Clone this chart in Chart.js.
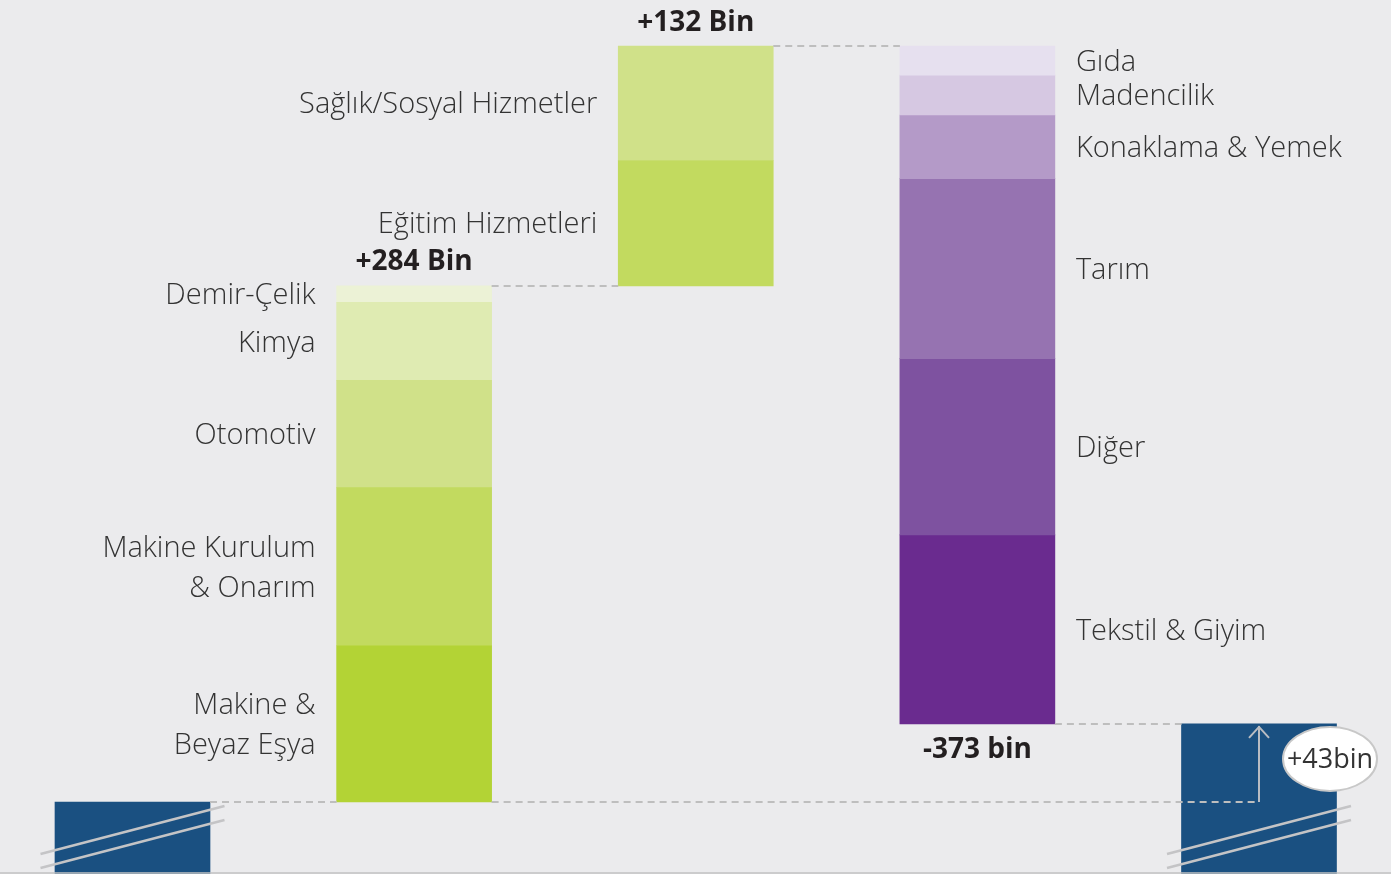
<!DOCTYPE html>
<html lang="tr">
<head>
<meta charset="UTF-8" />
<title>İstihdam değişimi – sektörler</title>
<script src="https://cdn.jsdelivr.net/npm/chart.js"></script>
<style>
  html, body { margin:0; padding:0; background:#ebebed; }
  #wrap { width:1391px; height:874px; position:relative; }
</style>
</head>
<body>
<div id="wrap"><canvas id="chart"></canvas></div>
<script>
// categories of the waterfall
const categories = ['Başlangıç', 'Artan Sanayi', 'Artan Hizmetler', 'Azalan', 'Sonuç'];

// growing industry sectors, bottom to top (thousand people)
const sanayiLabels = ['Makine &\nBeyaz Eşya', 'Makine Kurulum\n& Onarım', 'Otomotiv', 'Kimya', 'Demir-Çelik'];
const sanayiValues = [86, 87, 59, 43, 9];
const sanayiColors = ['#b3d335', '#c2da5f', '#d0e189', '#dfebb2', '#ecf2d6'];

// growing service sectors, bottom to top
const hizmetLabels = ['Eğitim Hizmetleri', 'Sağlık/Sosyal Hizmetler'];
const hizmetValues = [69, 63];
const hizmetColors = ['#c2da5f', '#d0e189'];

// shrinking sectors, top to bottom
const azalanLabels = ['Gıda', 'Madencilik', 'Konaklama & Yemek', 'Tarım', 'Diğer', 'Tekstil & Giyim'];
const azalanValues = [16, 22, 35, 99, 97, 104];
const azalanColors = ['#e6e0ef', '#d6c8e2', '#b49ac8', '#9673b1', '#7e52a0', '#6a2b8f'];

const netChange = 43;
const totalLabels = ['+284 Bin', '+132 Bin', '-373 bin'];
const netLabel = '+43bin';

const BLUE = '#1a5081';

// build floating bar datasets
const datasets = [];
function seg(catIdx, lo, hi, color, label) {
  const data = categories.map((c, i) => i === catIdx ? [lo, hi] : null);
  datasets.push({ label, data, backgroundColor: color, segLabel: label });
}
seg(0, -80, 0, BLUE, null);
let acc = 0;
sanayiValues.forEach((v, i) => { seg(1, acc, acc + v, sanayiColors[i], sanayiLabels[i]); acc += v; });
const sanayiTop = acc;
hizmetValues.forEach((v, i) => { seg(2, acc, acc + v, hizmetColors[i], hizmetLabels[i]); acc += v; });
const hizmetTop = acc;
azalanValues.forEach((v, i) => { seg(3, acc - v, acc, azalanColors[i], azalanLabels[i]); acc -= v; });
const azalanBottom = acc;
seg(4, -80, netChange, BLUE, null);
datasets.forEach(d => { d.grouped = false; d.barThickness = 155; d.borderWidth = 0;
  d.clip = { left: false, right: false, top: 0, bottom: 0 }; });

const FONT = '"Open Sans", "Noto Sans", sans-serif';

const decor = {
  id: 'decor',
  beforeDraw(chart) {
    const c = chart.ctx;
    c.save(); c.fillStyle = '#ebebed'; c.fillRect(0, 0, chart.width, chart.height); c.restore();
  },
  afterDatasetsDraw(chart) {
    const c = chart.ctx, xs = chart.scales.x, ys = chart.scales.y;
    const half = 77.5;
    const cx = i => xs.getPixelForValue(i);
    const py = v => ys.getPixelForValue(v);
    c.save();

    // dashed connectors
    c.strokeStyle = '#bebebe'; c.lineWidth = 2; c.setLineDash([7, 5]);
    const dash = (x1, x2, y) => { c.beginPath(); c.moveTo(x1, y); c.lineTo(x2, y); c.stroke(); };
    dash(cx(0) + half, cx(1) - half, py(0));
    dash(cx(1) + half, cx(4), py(0));
    dash(cx(1) + half, cx(2) - half, py(sanayiTop));
    dash(cx(2) + half, cx(3) - half, py(hizmetTop));
    dash(cx(3) + half, cx(4) - half, py(azalanBottom));
    c.setLineDash([]);

    // arrow for net change
    const ax = cx(4);
    c.strokeStyle = '#b9bcc2'; c.lineWidth = 2;
    c.beginPath(); c.moveTo(ax, py(0)); c.lineTo(ax, py(netChange) + 2); c.stroke();
    c.beginPath(); c.moveTo(ax - 10, py(netChange) + 14); c.lineTo(ax, py(netChange) + 3);
    c.lineTo(ax + 10, py(netChange) + 14); c.stroke();

    // axis break marks
    c.strokeStyle = '#c4c4c6'; c.lineWidth = 2.5;
    [0, 4].forEach(i => {
      const x = cx(i), y0 = py(0);
      [0, 14].forEach(o => {
        c.beginPath(); c.moveTo(x - 92, y0 + 52 + o); c.lineTo(x + 92, y0 + 4 + o); c.stroke();
      });
    });

    // bottom line
    c.strokeStyle = '#c2c2c2'; c.lineWidth = 1.5;
    c.beginPath(); c.moveTo(0, chart.height - 1); c.lineTo(chart.width, chart.height - 1); c.stroke();

    // segment labels
    c.fillStyle = '#333'; c.font = '300 29px ' + FONT; c.textBaseline = 'middle';
    chart.data.datasets.forEach(d => {
      if (!d.segLabel) return;
      const idx = d.data.findIndex(v => v);
      const [lo, hi] = d.data[idx];
      const lines = d.segLabel.split('\n');
      const mid = py((lo + hi) / 2) + 2;
      let x;
      if (idx === 3) { c.textAlign = 'left'; x = cx(3) + half + 21; }
      else { c.textAlign = 'right'; x = cx(idx) - half - 21; }
      lines.forEach((t, k) => c.fillText(t, x, mid + (k - (lines.length - 1) / 2) * 40));
    });

    // totals
    c.font = 'bold 28px ' + FONT; c.fillStyle = '#231f20'; c.textAlign = 'center';
    c.fillText(totalLabels[0], cx(1), py(sanayiTop) - 24);
    c.fillText(totalLabels[1], cx(2), py(hizmetTop) - 23);
    c.fillText(totalLabels[2], cx(3), py(azalanBottom) + 26);

    // net change bubble
    const ex = cx(4) + 71, ey = py(netChange) + 35;
    c.beginPath(); c.ellipse(ex, ey, 47, 32, 0, 0, Math.PI * 2);
    c.fillStyle = '#ffffff'; c.fill();
    c.strokeStyle = '#c8c8c8'; c.lineWidth = 2; c.stroke();
    c.fillStyle = '#333'; c.font = '400 27px ' + FONT;
    c.fillText(netLabel, ex, ey + 1);
    c.restore();
  }
};

new Chart(document.getElementById('chart'), {
  type: 'bar',
  data: { labels: categories, datasets },
  options: {
    responsive: true,
    maintainAspectRatio: false,
    animation: false,
    layout: { padding: { left: 132.5, right: 132, top: 0, bottom: 0 } },
    plugins: { legend: { display: false }, tooltip: { enabled: false } },
    scales: {
      x: { type: 'category', offset: false, display: false },
      y: { display: false, min: -39.6, max: 441.3 }
    }
  },
  plugins: [decor]
});
</script>
</body>
</html>
